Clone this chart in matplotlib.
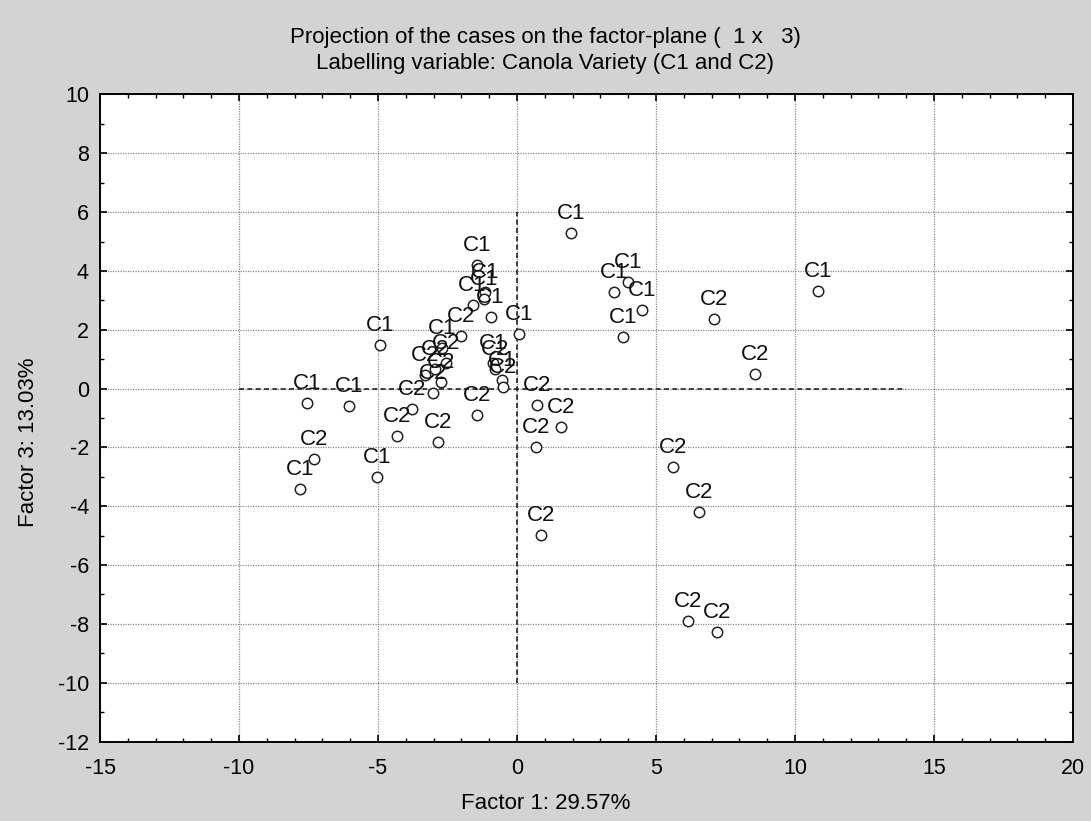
import matplotlib.pyplot as plt
from matplotlib.ticker import MultipleLocator

plt.rcParams['font.family'] = ['Liberation Sans', 'DejaVu Sans']
plt.rcParams['axes.unicode_minus'] = False

# case coordinates on factors 1 and 3, with their variety label
factor1 = [1.94, 10.84, 7.10, 8.56, 3.49, 3.99, 4.50, 3.83,
           5.61, 6.55, 0.86, 6.15, 7.19,
           -7.56, -6.04, -3.79, -4.33, -2.83, -1.45, 0.71, 1.58, 0.67,
           -7.31, -7.81, -5.05, -4.93,
           -2.03, -2.71, -2.55, -2.95, -3.30, -2.75, -3.03,
           0.08, -0.85, -0.79, -0.55, -0.52,
           -1.45, -1.15, -1.20, -1.60, -0.95]
factor3 = [5.29, 3.33, 2.36, 0.49, 3.30, 3.62, 2.66, 1.74,
           -2.67, -4.20, -4.98, -7.90, -8.28,
           -0.50, -0.58, -0.71, -1.60, -1.83, -0.91, -0.56, -1.30, -1.98,
           -2.41, -3.43, -3.02, 1.48,
           1.80, 1.38, 0.88, 0.65, 0.45, 0.22, -0.16,
           1.85, 0.88, 0.66, 0.30, 0.05,
           4.20, 3.28, 3.05, 2.84, 2.44]
variety = ["C1", "C1", "C2", "C2", "C1", "C1", "C1", "C1",
           "C2", "C2", "C2", "C2", "C2",
           "C1", "C1", "C2", "C2", "C2", "C2", "C2", "C2", "C2",
           "C2", "C1", "C1", "C1",
           "C2", "C1", "C2", "C2", "C2", "C2", "C2",
           "C1", "C1", "C2", "C1", "C2",
           "C1", "C1", "C1", "C1", "C1"]

bg = "#d3d3d3"
fig = plt.figure(figsize=(10.91, 8.21), dpi=100, facecolor=bg)
ax = fig.add_axes([0.0917, 0.0968, 0.8918, 0.7881])
ax.set_facecolor("white")

ax.set_xlim(-15, 20)
ax.set_ylim(-12, 10)
ax.xaxis.set_major_locator(MultipleLocator(5))
ax.xaxis.set_minor_locator(MultipleLocator(1))
ax.yaxis.set_major_locator(MultipleLocator(2))
ax.yaxis.set_minor_locator(MultipleLocator(1))
ax.tick_params(which="both", direction="in", top=True, right=True,
               labelsize=15.5, color="black")
ax.tick_params(which="major", length=5, width=1.2)
ax.tick_params(axis="x", which="major", pad=12)
ax.tick_params(axis="y", which="major", pad=8)
ax.tick_params(which="minor", length=3, width=1)
for s in ax.spines.values():
    s.set_linewidth(1.4)

ax.grid(True, which="major", color="#8a8a8a", linestyle=(0, (1, 1)), linewidth=0.9)

# origin cross lines
ax.plot([-10, 14], [0, 0], color="#222222", linestyle=(0, (3, 2)), linewidth=1.2, zorder=2)
ax.plot([0, 0], [-10, 6], color="#222222", linestyle=(0, (3, 2)), linewidth=1.2, zorder=2)

ax.plot(factor1, factor3, linestyle="none", marker="o", markersize=7.5,
        markerfacecolor="white", markeredgecolor="#222222", markeredgewidth=1.1, zorder=3)
for x, y, lab in zip(factor1, factor3, variety):
    ax.annotate(lab, (x, y), xytext=(0, 6.5), textcoords="offset points",
                ha="center", va="bottom", fontsize=16, color="#111111", zorder=4)

fig.text(0.5, 1 - 37 / 821, "Projection of the cases on the factor-plane (  1 x   3)",
         ha="center", va="center", fontsize=16)
fig.text(0.5, 1 - 63 / 821, "Labelling variable: Canola Variety (C1 and C2)",
         ha="center", va="center", fontsize=16)
fig.text(0.5, 1 - 803 / 821, "Factor 1: 29.57%", ha="center", va="center", fontsize=16)
fig.text(28 / 1091, 1 - 442 / 821, "Factor 3: 13.03%", ha="center", va="center",
         rotation=90, fontsize=16)

fig.savefig("out.png", dpi=100, facecolor=bg)
